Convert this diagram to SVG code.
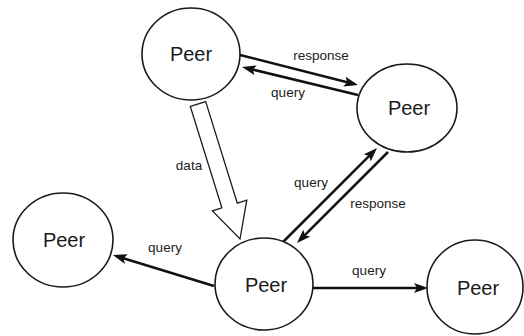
<svg xmlns="http://www.w3.org/2000/svg" width="524" height="336" viewBox="0 0 524 336">
<style>
.node ellipse{fill:#fff;stroke:#1a1a1a;stroke-width:1.6}
.node text{font-family:"Liberation Sans",Arial,sans-serif;font-size:20px;fill:#1a1a1a;text-anchor:middle}
.edge{stroke:#111;stroke-width:2.5;fill:none;marker-end:url(#ah)}
.lbl{font-family:"Liberation Sans",Arial,sans-serif;font-size:13.5px;fill:#222;text-anchor:middle}
</style>
<defs>
<marker id="ah" markerUnits="userSpaceOnUse" markerWidth="16" markerHeight="12" refX="10" refY="5" orient="auto">
<path d="M0,0 L14,5 L0,10 L3,5 z" fill="#111"/>
</marker>
</defs>
<rect width="524" height="336" fill="#fff"/>
<g id="connectors">
<line class="edge" x1="240" y1="55" x2="354.1" y2="84"/>
<line class="edge" x1="358" y1="95" x2="245.9" y2="67.9"/>
<line class="edge" x1="283" y1="242" x2="374.2" y2="150.8"/>
<line class="edge" x1="388" y1="152" x2="299.8" y2="240.2"/>
<line class="edge" x1="214" y1="286" x2="116.8" y2="256.2"/>
<line class="edge" x1="313" y1="288" x2="424" y2="288"/>
<polygon points="205.7,101.6 237.3,203.1 246.8,200.1 240,239 212.4,210.9 221.9,207.9 190.3,106.4" fill="#fff" stroke="#1a1a1a" stroke-width="1.3" stroke-linejoin="miter"/>
<text class="lbl" x="321" y="60">response</text>
<text class="lbl" x="288" y="97">query</text>
<text class="lbl" x="189" y="170">data</text>
<text class="lbl" x="311" y="187">query</text>
<text class="lbl" x="378" y="208">response</text>
<text class="lbl" x="165" y="252">query</text>
<text class="lbl" x="369" y="275">query</text>
</g>
<g id="peer-top" class="node"><ellipse cx="191" cy="54" rx="49" ry="46"/><text x="191" y="61">Peer</text></g>
<g id="peer-right" class="node"><ellipse cx="407" cy="108" rx="50" ry="44"/><text x="409" y="115">Peer</text></g>
<g id="peer-left" class="node"><ellipse cx="63" cy="240" rx="50" ry="47"/><text x="64" y="247">Peer</text></g>
<g id="peer-center" class="node"><ellipse cx="264" cy="284" rx="49" ry="46"/><text x="266" y="292">Peer</text></g>
<g id="peer-far-right" class="node"><ellipse cx="475" cy="287" rx="48" ry="47"/><text x="478" y="295">Peer</text></g>
</svg>
